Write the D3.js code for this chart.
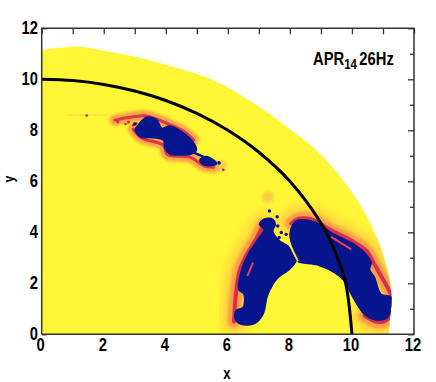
<!DOCTYPE html>
<html><head><meta charset="utf-8">
<script src="https://cdn.jsdelivr.net/npm/d3@7"></script>
<style>html,body{margin:0;padding:0;background:#fff}svg{display:block}
text{font-family:"Liberation Sans",Arial,sans-serif;font-weight:bold;fill:#000}</style>
</head><body><svg id="c" width="436" height="382"></svg>
<script>
const tickValues=[0,2,4,6,8,10,12];
const minorValues=[1,3,5,7,9,11];
const starEdge=[[0,11.15],[0.6,11.24],[1.23,11.28],[1.88,11.15],[2.95,10.9],[4.03,10.56],[5.1,10.17],[5.68,9.88],[6.75,9.12],[7.83,8.2],[8.9,7.16],[9.87,5.79],[10.5,4.57],[11,3.15],[11.27,1.58],[11.21,0.4],[11.18,0]];
const surface=[[0,10],[1,9.95],[2,9.8],[3,9.54],[4,9.17],[5,8.66],[6,8],[7,7.14],[8,6],[9,4.36],[9.5,3.12],[9.8,1.99],[10,0]];
const rightLobe=[[8.01,3.99],[8.1,4.31],[8.26,4.47],[8.69,4.44],[9.01,4.27],[9.33,3.99],[9.98,3.59],[10.41,3.2],[10.62,2.81],[10.57,2.55],[10.73,2.22],[10.94,1.57],[11.27,1.46],[11.29,1.18],[11.16,0.68],[10.84,0.55],[10.41,0.78],[9.98,1.57],[9.76,2.09],[9.44,2.42],[8.9,2.72],[8.37,2.81],[8.26,2.87],[8.1,3.4],[8.01,3.79]];
const leftLobe=[[8.2,2.9],[7.99,2.55],[7.61,2.22],[7.29,1.57],[7.13,0.78],[6.86,0.42],[6.43,0.39],[6.24,0.59],[6.27,0.94],[6.49,1.05],[6.52,1.57],[6.35,1.76],[6.43,2.48],[6.65,3.14],[6.97,3.72],[7.16,4.12],[7.02,4.31],[7.18,4.52],[7.45,4.51],[7.53,4.31],[7.45,4.05],[7.67,3.66],[7.94,3.46],[8.17,2.94]];
const upperBlob=[[3.11,8.21],[3.38,8.51],[3.7,8.43],[3.87,8.08],[4.13,8.17],[4.51,7.95],[4.83,7.62],[4.99,7.23],[4.83,7.07],[4.46,7.03],[4.13,7.07],[3.97,7.29],[3.92,7.62],[3.49,7.72],[3.22,7.72],[3.01,8.01]];
const smallBlob=[[5.1,6.84],[5.26,6.97],[5.53,6.84],[5.64,6.68],[5.37,6.61],[5.15,6.7]];
const blobLink=[[4.83,7.16],[5.21,6.97]];
const glowLeft=[[6.2,0.5],[6.22,1],[6.27,1.7],[6.38,2.5],[6.6,3.1],[6.92,3.75],[7.12,4.25]];
const glowRight=[[8.05,4.35],[8.26,4.52],[8.69,4.5],[9.33,4.08],[9.98,3.68],[10.47,3.27],[10.7,2.8],[10.98,2.2],[11.27,1.52],[11.32,1.1],[11.18,0.62],[10.84,0.48],[10.41,0.72]];
const glowTop=[[2.36,8.4],[2.9,8.52],[3.38,8.56],[4.13,8.22],[4.56,7.97],[4.9,7.62]];
const glowUnder=[[2.95,8.05],[3.22,7.7],[3.92,7.42],[4.05,7.05],[4.78,6.95],[5.21,6.62],[5.55,6.55]];
const slitRight=[[9.33,3.82],[9.98,3.33]];
const slitLeft=[[6.81,2.81],[6.63,2.29]];
const neck=[[7.94,3.66],[8.26,2.87]];
const paleStreak=[[0.95,8.62],[2.0,8.6]];
const paleSpots=[[7.29,5.38],[5.78,6.6]];
const redSpecks=[[2.45,8.33],[2.7,8.25],[2.95,8.2],[2.8,8.32],[3.05,8.27],[1.45,8.58],[5.7,6.75],[5.85,6.45]];
const blueSpecks=[[7.34,4.84],[7.59,4.61],[7.61,4.25],[7.72,3.99],[7.88,3.92],[7.65,3.79],[3.0,8.25],[5.72,6.72]];

const svg=d3.select("#c");
const x=d3.scaleLinear().domain([0,12]).range([41.7,414]);
const y=d3.scaleLinear().domain([0,12]).range([334.3,28.3]);
const smooth=d3.line().x(d=>x(d[0])).y(d=>y(d[1])).curve(d3.curveCatmullRom);
const closed=d3.line().x(d=>x(d[0])).y(d=>y(d[1])).curve(d3.curveCatmullRomClosed);
const starPath=smooth(starEdge)+`L${x(0)},${y(0)}Z`;
const defs=svg.append("defs");
[["b1",4.5],["b2",1.8],["b3",0.5]].forEach(([id,s])=>defs.append("filter").attr("id",id).attr("x","-50%").attr("y","-50%").attr("width","200%").attr("height","200%").append("feGaussianBlur").attr("stdDeviation",s));
defs.append("clipPath").attr("id","star").append("path").attr("d",starPath);

const ink="#333";
function ticks(axis,tf,size,vals){
  const g=svg.append("g").attr("transform",tf).call(axis.tickValues(vals).tickSize(size).tickFormat(""));
  g.select(".domain").remove();
  g.selectAll("line").attr("stroke",ink).attr("stroke-width",1.3);
}
ticks(d3.axisBottom(x),`translate(0,${y(12)})`,6,tickValues.concat(minorValues));
ticks(d3.axisLeft(y),`translate(${x(12)},0)`,6,tickValues);
ticks(d3.axisLeft(y),`translate(${x(12)},0)`,4,minorValues);
ticks(d3.axisRight(y),`translate(${x(0)},0)`,5,tickValues.concat(minorValues));

const yellow="#fff736", blue="#07168c";
svg.append("path").attr("d",starPath).attr("fill",yellow);

const heat=svg.append("g").attr("clip-path","url(#star)");
function glow(pts,color,w,f,o){heat.append("path").attr("d",smooth(pts)).attr("fill","none").attr("stroke",color).attr("stroke-width",w).attr("stroke-linecap","round").attr("filter",`url(#${f})`).attr("opacity",o);}
[glowLeft,glowRight].forEach(p=>{
  glow(p,"#ffd040",28,"b1",0.85);
  glow(p,"#f79a48",13,"b2",0.95);
  glow(p,"#d92a4a",4,"b3",0.95);
});
[glowTop,glowUnder].forEach(p=>{
  glow(p,"#f79a48",11,"b2",0.9);
  glow(p,"#d92a4a",3,"b3",0.9);
});
glow(paleStreak,"#fcd65a",7,"b2",0.7);
heat.selectAll("circle.pale").data(paleSpots).join("circle").attr("class","pale")
  .attr("cx",d=>x(d[0])).attr("cy",d=>y(d[1])).attr("r",6).attr("fill","#fbc04a").attr("opacity",.75).attr("filter","url(#b2)");

heat.selectAll("path.blue").data([rightLobe,leftLobe,upperBlob,smallBlob]).join("path").attr("class","blue")
  .attr("d",closed).attr("fill",blue).attr("stroke",blue).attr("stroke-width",1.5);
heat.append("path").attr("d",smooth(blobLink)).attr("stroke",blue).attr("stroke-width",2.5).attr("fill","none");
heat.append("path").attr("d",smooth(neck)).attr("stroke",yellow).attr("stroke-width",1.6).attr("fill","none");
[slitRight,slitLeft].forEach(p=>heat.append("path").attr("d",smooth(p)).attr("stroke","#e8405a").attr("stroke-width",2).attr("fill","none"));
heat.selectAll("circle.red").data(redSpecks).join("circle").attr("class","red")
  .attr("cx",d=>x(d[0])).attr("cy",d=>y(d[1])).attr("r",1.3).attr("fill","#dd2244");
heat.selectAll("circle.bl").data(blueSpecks).join("circle").attr("class","bl")
  .attr("cx",d=>x(d[0])).attr("cy",d=>y(d[1])).attr("r",1.7).attr("fill",blue);

svg.append("path").attr("d",smooth(surface)).attr("fill","none").attr("stroke","#000").attr("stroke-width",3);

svg.append("path").attr("d",`M${x(0)},${y(0)}V${y(12)}H${x(12)}V${y(0)}H${x(0)}`).attr("fill","none").attr("stroke",ink).attr("stroke-width",1.5);

const narrow=0.82;
svg.selectAll("text.xl").data(tickValues).join("text").attr("class","xl")
  .attr("transform",d=>`translate(${x(d)-1},351) scale(${narrow},1)`)
  .attr("text-anchor","middle").attr("font-size",18).text(d=>d);
svg.selectAll("text.yl").data(tickValues).join("text").attr("class","yl")
  .attr("transform",d=>`translate(38,${y(d)+6}) scale(${narrow},1)`)
  .attr("text-anchor","end").attr("font-size",18).text(d=>d);
svg.append("text").attr("transform",`translate(227,378.5) scale(${narrow},1)`).attr("text-anchor","middle").attr("font-size",16).text("x");
svg.append("text").attr("transform",`translate(13.6,179) rotate(-90) scale(${narrow},1)`).attr("text-anchor","middle").attr("font-size",15).text("y");
const t=svg.append("text").attr("transform",`translate(313,65) scale(${narrow},1)`).attr("font-size",18);
t.append("tspan").text("APR");
t.append("tspan").attr("font-size",14).attr("dy",4).text("14");
t.append("tspan").attr("dy",-4).attr("dx",3).text("26Hz");
</script></body></html>
